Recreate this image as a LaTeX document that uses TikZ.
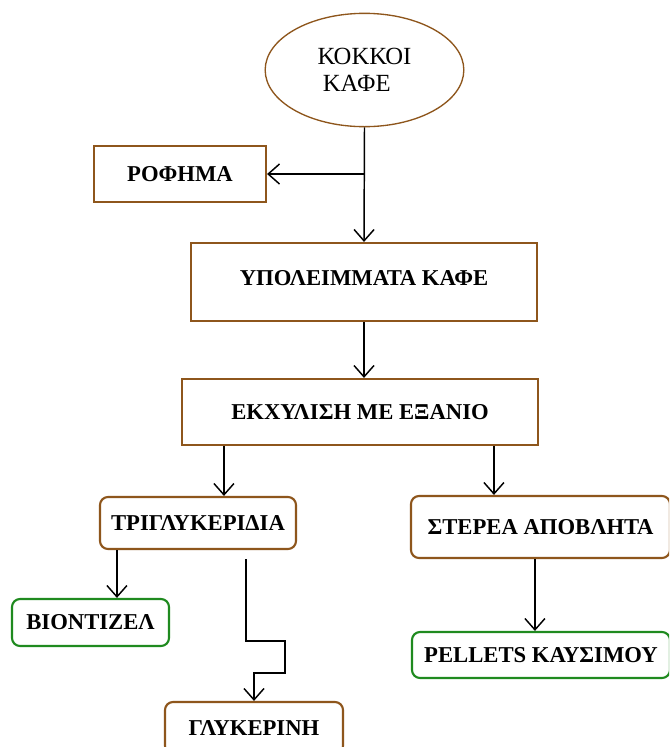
\documentclass[tikz,border=0pt]{standalone}
\usepackage{fontspec}
\setmainfont{Liberation Serif}
\usepackage{xcolor}
\usepackage{tikz}
\usetikzlibrary{arrows.meta,calc,positioning,shapes.geometric}
\definecolor{bark}{HTML}{8E561C}
\definecolor{leaf}{HTML}{1F8A1F}
\definecolor{ink}{HTML}{000000}
\tikzset{
  boxtext/.style={font=\bfseries\fontsize{17}{20}\selectfont, text=ink, align=center},
  procbox/.style={boxtext, draw=bark, line width=1.6pt, fill=white, inner sep=0pt},
  stagebox/.style={procbox, rounded corners=6pt},
  productbox/.style={stagebox, draw=leaf},
  seedellipse/.style={
    ellipse,
    draw=bark,
    line width=1pt,
    inner sep=0pt,
    align=left,
    text=ink,
    font=\fontsize{18.5}{20}\selectfont
  },
  figarrow/.style={-{Straight Barb[length=8.5pt,width=15pt,line width=1.1pt]}, line width=1.1pt, draw=ink}
}

\begin{document}
\begin{tikzpicture}[x=0.75pt, y=-0.75pt]
  \clip (0,0) rectangle (669,747);
  \fill[white] (0,0) rectangle (669,747);

  % main column
  \node[seedellipse, minimum width=149pt, minimum height=85pt] (kokkoi) at (364.5,70)
    {ΚΟΚΚΟΙ\\\hspace*{4pt}ΚΑΦΕ};
  \node[procbox, minimum width=129pt, minimum height=42pt] (rofima) at (180,174) {ΡΟΦΗΜΑ};
  \node[procbox, minimum width=259.5pt, minimum height=58.5pt] (ypol) at (364,282) {\raisebox{6pt}{ΥΠΟΛΕΙΜΜΑΤΑ ΚΑΦΕ}};
  \node[procbox, minimum width=267pt, minimum height=49.5pt] (ekx) at (360,412) {ΕΚΧΥΛΙΣΗ ΜΕ ΕΞΑΝΙΟ};

  % left branch
  \node[stagebox, minimum width=147pt, minimum height=39pt] (trigl) at (198,523) {ΤΡΙΓΛΥΚΕΡΙΔΙΑ};
  \node[productbox, minimum width=117.75pt, minimum height=35.25pt] (biont) at (90.5,622.5) {ΒΙΟΝΤΙΖΕΛ};
  \node[stagebox, minimum width=133.5pt, minimum height=39pt] (glyk) at (254,728) {ΓΛΥΚΕΡΙΝΗ};

  % right branch
  \node[stagebox, minimum width=194.25pt, minimum height=46.5pt] (sterea) at (540.5,527) {ΣΤΕΡΕΑ ΑΠΟΒΛΗΤΑ};
  \node[productbox, minimum width=193.5pt, minimum height=34.5pt] (pellets) at (541,655) {PELLETS ΚΑΥΣΙΜΟΥ};

  \coordinate (junction) at (kokkoi.south |- rofima.east);
  \coordinate (trigin) at ($(trigl.north west)+(125,0)$);
  \coordinate (sterin) at ($(sterea.north west)+(84,0)$);
  \coordinate (biontin) at ($(trigl.south west)+(18,0)$);
  \coordinate (glystart) at ($(trigl.south west)+(147,9)$);
  \coordinate (pelout) at ($(sterea.south west)+(125,0)$);

  \draw[figarrow] (kokkoi.south) -- (ypol.north);
  \draw[figarrow] (junction) -- (rofima.east);
  \draw[figarrow] (ypol.south) -- (ypol.south |- ekx.north);
  \draw[figarrow] (ekx.south -| trigin) -- (trigin);
  \draw[figarrow] (ekx.south -| sterin) -- (sterin);
  \draw[figarrow] (biontin) -- (biont.north -| biontin);
  \draw[figarrow] (glystart) -- ++(0,82) -- ++(39,0) -- ++(0,32) -| (glyk.north);
  \draw[figarrow] (pelout) -- (pellets.north -| pelout);
\end{tikzpicture}
\end{document}
